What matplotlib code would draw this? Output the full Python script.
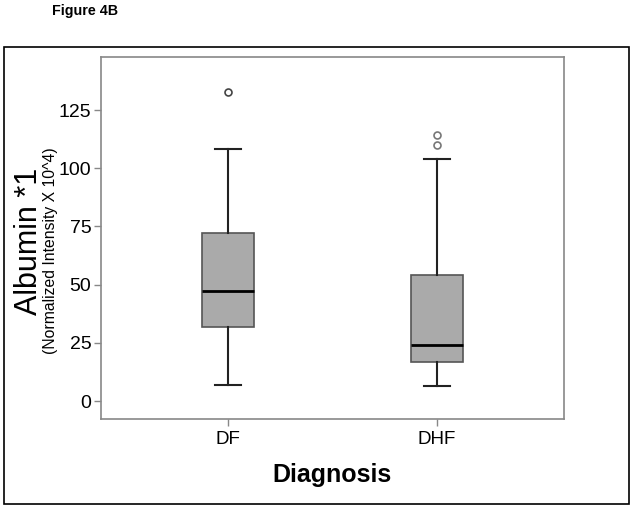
import matplotlib.pyplot as plt
from matplotlib.patches import Rectangle

plt.rcParams['font.family'] = ['Liberation Sans', 'DejaVu Sans']

# Box statistics
groups = ["DF", "DHF"]
whislo = [6.9, 6.4]
q1 = [31.8, 16.8]
med = [47.2, 24.0]
q3 = [72.2, 54.1]
whishi = [108.2, 104.0]
fliers = [[132.7], [114.3, 110.0]]
yticks = [0, 25, 50, 75, 100, 125]

stats = []
for i in range(len(groups)):
    stats.append({"label": groups[i], "whislo": whislo[i], "q1": q1[i], "med": med[i],
                  "q3": q3[i], "whishi": whishi[i], "fliers": fliers[i]})

fig = plt.figure(figsize=(6.35, 5.09), dpi=100)
ax = fig.add_axes([101/635, 1 - 419/509, 463/635, 362/509])

# outer frame around the figure area
fig.patches.append(Rectangle((4/635, 1 - 504/509), 625/635, 457/509, transform=fig.transFigure,
                             fill=False, edgecolor="black", linewidth=1.2))

ax.bxp(stats, positions=[1, 2], widths=0.25, patch_artist=True,
       boxprops=dict(facecolor="#aaaaaa", edgecolor="#555555", linewidth=1.2),
       medianprops=dict(color="black", linewidth=2),
       whiskerprops=dict(color="#222222", linewidth=1.5),
       capprops=dict(color="#222222", linewidth=1.5),
       flierprops=dict(marker="o", markerfacecolor="white", markeredgecolor="#444444",
                       markersize=5, markeredgewidth=1.2))
# second group's outliers are lighter
ax.lines[-1].set_markeredgecolor("#777777")

ax.set_xlim(0.392, 2.608)
ax.set_ylim(-7.7, 147.8)
ax.set_yticks(yticks)
ax.set_yticklabels([str(v) for v in yticks], fontsize=14)
ax.set_xticks([1, 2])
ax.set_xticklabels(groups, fontsize=13.5)
for s in ax.spines.values():
    s.set_color("#888888")
    s.set_linewidth(1.2)
ax.tick_params(colors="#888888", labelcolor="black", length=5, width=1)
ax.tick_params(axis="y", pad=2)

ax.set_xlabel("Diagnosis", fontsize=18, fontweight="bold", labelpad=11)
fig.text(29/635, 1 - 241/509, "Albumin *1", rotation=90, fontsize=22, ha="center", va="center")
fig.text(51/635, 1 - 251/509, "(Normalized Intensity X 10^4)", rotation=90, fontsize=11.3,
         ha="center", va="center")
fig.text(52/635, 1 - 11/509, "Figure 4B", fontsize=10.3, fontweight="bold", ha="left", va="center")

fig.savefig("out.png", dpi=100)
